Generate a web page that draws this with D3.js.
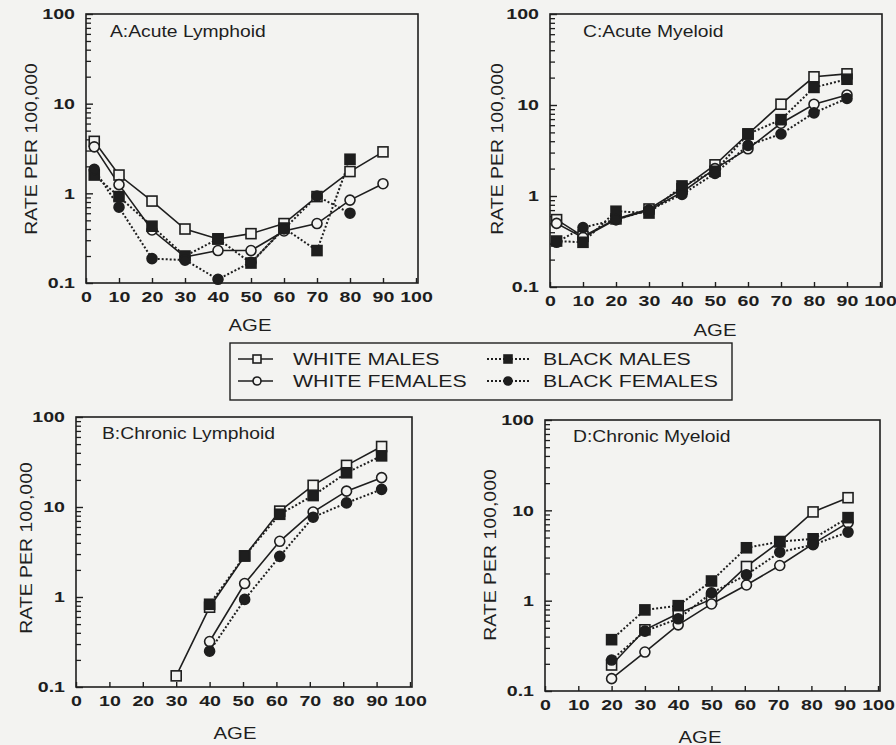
<!DOCTYPE html>
<html><head><meta charset="utf-8">
<script src="https://cdn.jsdelivr.net/npm/d3@7"></script>
<style>
html,body{margin:0;padding:0;background:#f3f3f1;}
svg{display:block;}
text{font-family:"Liberation Sans",Arial,Helvetica,sans-serif;fill:#1e1e1e;}
</style></head>
<body>
<svg id="chart" width="896" height="745"></svg>
<script>
// ---------- DATA ----------
const seriesNames = ["WHITE MALES", "WHITE FEMALES", "BLACK MALES", "BLACK FEMALES"];
const xTicks = [0,10,20,30,40,50,60,70,80,90,100];
const yTicks = [0.1, 1, 10, 100];
const yTickLabels = ["0.1", "1", "10", "100"];

// A: Acute Lymphoid
const agesA = [2.5,10,20,30,40,50,60,70,80,90];
const alWhiteMales   = [3.8,1.6,0.82,0.40,0.31,0.355,0.46,0.92,1.75,2.9];
const alWhiteFemales = [3.3,1.25,0.39,0.195,0.23,0.23,0.38,0.46,0.84,1.28];
const alBlackMales   = [1.6,0.92,0.43,0.20,0.31,0.167,0.41,0.23,2.4,null];
const alBlackFemales = [1.85,0.70,0.187,0.18,0.11,0.17,0.40,0.93,0.60,null];

// C: Acute Myeloid
const agesC = [2,10,20,30,40,50,60,70,80,90];
const amWhiteMales   = [0.55,0.36,0.56,0.72,1.2,2.2,4.8,10.2,20.4,22];
const amWhiteFemales = [0.50,0.35,0.55,0.70,1.1,2.0,3.3,6.3,10.2,12.9];
const amBlackMales   = [0.32,0.31,0.68,0.65,1.29,1.87,4.8,6.9,15.6,19.2];
const amBlackFemales = [0.31,0.45,0.55,0.70,1.04,1.77,3.6,4.8,8.2,11.8];

// B: Chronic Lymphoid
const agesB = [30,40,50.5,61,71,81,91.5];
const clWhiteMales   = [0.133,0.77,2.86,9.0,17.4,29,47];
const clWhiteFemales = [null,0.32,1.41,4.16,8.8,15,21.2];
const clBlackMales   = [null,0.83,2.86,8.3,13.4,24,37];
const clBlackFemales = [null,0.25,0.94,2.83,7.7,11.1,15.7];

// D: Chronic Myeloid
const agesD = [20,30,40,50,60.5,70.5,80.5,91];
const cmWhiteMales   = [0.194,0.476,0.72,1.04,2.39,4.5,9.6,13.8];
const cmWhiteFemales = [0.137,0.27,0.54,0.92,1.49,2.45,4.26,7.3];
const cmBlackMales   = [0.37,0.79,0.88,1.65,3.85,4.5,4.84,8.3];
const cmBlackFemales = [0.22,0.46,0.63,1.22,1.93,3.44,4.16,5.74];

// ---------- STYLE ----------
const INK = "#1e1e1e";
const styles = [
  {dash:null, shape:"square", fill:"#f3f3f1"},
  {dash:null, shape:"circle", fill:"#f3f3f1"},
  {dash:"2,2", shape:"square", fill:INK},
  {dash:"2,2", shape:"circle", fill:INK}
];

const svg = d3.select("#chart");
svg.append("rect").attr("width",896).attr("height",745).attr("fill","#f3f3f1");

function drawMarker(g, shape, cx, cy, fill, size) {
  if (shape === "square") {
    g.append("rect").attr("x", cx - size/2).attr("y", cy - size/2)
      .attr("width", size).attr("height", size)
      .attr("fill", fill).attr("stroke", INK).attr("stroke-width", 1.6);
  } else {
    g.append("circle").attr("cx", cx).attr("cy", cy).attr("r", size/2)
      .attr("fill", fill).attr("stroke", INK).attr("stroke-width", 1.6);
  }
}

function panel(cfg) {
  const x = d3.scaleLinear().domain([0,100]).range([cfg.x0, cfg.x1]);
  const y = d3.scaleLog().domain([0.1,100]).range([cfg.yBot, cfg.yTop]);
  const g = svg.append("g");

  // frame
  g.append("rect").attr("x", cfg.x0).attr("y", cfg.yTop)
    .attr("width", cfg.x1 - cfg.x0 + 2).attr("height", cfg.yBot - cfg.yTop)
    .attr("fill", "none").attr("stroke", INK).attr("stroke-width", 1.6);

  // x axis
  const gx = g.append("g").attr("transform", `translate(0,${cfg.yBot})`)
    .call(d3.axisBottom(x).tickValues(xTicks).tickSize(-5).tickSizeOuter(0));
  gx.select(".domain").remove();
  gx.selectAll(".tick line").attr("stroke", INK).attr("stroke-width", 1.4);
  gx.selectAll(".tick text")
    .attr("y", null).attr("dy", "0.35em")
    .attr("transform", "translate(0,14) scale(1.4,1)")
    .style("font-size", "14px").style("font-weight", "bold").attr("fill", INK);

  // y axis: majors labelled, minors unlabelled
  const minors = [];
  [0.1,1,10].forEach(d => { for (let k = 2; k <= 9; k++) minors.push(d*k); });
  const gyMinor = g.append("g").attr("transform", `translate(${cfg.x0},0)`)
    .call(d3.axisLeft(y).tickValues(minors).tickSize(-5).tickFormat(""));
  gyMinor.select(".domain").remove();
  gyMinor.selectAll(".tick line").attr("stroke", INK).attr("stroke-width", 1.3);

  const gy = g.append("g").attr("transform", `translate(${cfg.x0},0)`)
    .call(d3.axisLeft(y).tickValues(yTicks).tickSize(-7)
      .tickFormat((d,i) => yTickLabels[i]));
  gy.select(".domain").remove();
  gy.selectAll(".tick line").attr("stroke", INK).attr("stroke-width", 1.4);
  gy.selectAll(".tick text")
    .attr("x", null).attr("dy", "0.35em")
    .attr("transform", "translate(-11,0) scale(1.4,1)")
    .attr("text-anchor", "end")
    .style("font-size", "14px").style("font-weight", "bold").attr("fill", INK);

  // titles and axis labels
  g.append("text").attr("transform", `translate(${cfg.titleX},${cfg.titleY}) scale(1.17,1)`)
    .style("font-size", "16.5px").text(cfg.title);
  g.append("text").attr("transform", `translate(${cfg.ylabX},${cfg.ylabY}) rotate(-90) scale(1.18,1)`)
    .attr("text-anchor", "middle").attr("dy", "0.35em")
    .style("font-size", "16.5px").text("RATE PER 100,000");
  g.append("text").attr("transform", `translate(${cfg.ageX},${cfg.ageY}) scale(1.27,1)`)
    .attr("text-anchor", "middle").attr("dy", "0.35em")
    .style("font-size", "16px").text("AGE");

  // series
  const line = d3.line().defined(d => d.v != null).x(d => x(d.a)).y(d => y(d.v));
  cfg.series.forEach((vals, si) => {
    const st = styles[si];
    const pts = cfg.ages.map((a, i) => ({a, v: vals[i]}));
    g.append("path").datum(pts).attr("d", line).attr("fill", "none")
      .attr("stroke", INK).attr("stroke-width", st.dash ? 2 : 1.6)
      .attr("stroke-dasharray", st.dash);
  });
  cfg.series.forEach((vals, si) => {
    const st = styles[si];
    const mg = g.append("g");
    cfg.ages.forEach((a, i) => {
      if (vals[i] == null) return;
      drawMarker(mg, st.shape, x(a), y(vals[i]), st.fill, 10);
    });
  });
}

panel({x0:86, x1:416, yTop:14, yBot:283, ages:agesA,
  series:[alWhiteMales, alWhiteFemales, alBlackMales, alBlackFemales],
  title:"A:Acute Lymphoid", titleX:110, titleY:37, ylabX:31, ylabY:149, ageX:250, ageY:325});
panel({x0:550, x1:880, yTop:14, yBot:287, ages:agesC,
  series:[amWhiteMales, amWhiteFemales, amBlackMales, amBlackFemales],
  title:"C:Acute Myeloid", titleX:583, titleY:37, ylabX:497, ylabY:149, ageX:715, ageY:330});
panel({x0:76, x1:410, yTop:417, yBot:687, ages:agesB,
  series:[clWhiteMales, clWhiteFemales, clBlackMales, clBlackFemales],
  title:"B:Chronic Lymphoid", titleX:102, titleY:439, ylabX:26, ylabY:548, ageX:235, ageY:733});
panel({x0:545, x1:878, yTop:420, yBot:691, ages:agesD,
  series:[cmWhiteMales, cmWhiteFemales, cmBlackMales, cmBlackFemales],
  title:"D:Chronic Myeloid", titleX:573, titleY:442, ylabX:490, ylabY:555, ageX:700, ageY:737});

// ---------- LEGEND ----------
const lg = svg.append("g");
lg.append("rect").attr("x", 230).attr("y", 343).attr("width", 502).attr("height", 57)
  .attr("fill", "none").attr("stroke", INK).attr("stroke-width", 1.4);
const legendPos = [
  {lx1:238, lx2:273, mx:257, tx:293, cy:359},
  {lx1:238, lx2:273, mx:257, tx:293, cy:381},
  {lx1:487, lx2:530, mx:508, tx:543, cy:359},
  {lx1:487, lx2:530, mx:508, tx:543, cy:381}
];
seriesNames.forEach((name, i) => {
  const p = legendPos[i], st = styles[i];
  lg.append("line").attr("x1", p.lx1).attr("x2", p.lx2).attr("y1", p.cy).attr("y2", p.cy)
    .attr("stroke", INK).attr("stroke-width", st.dash ? 2 : 1.6).attr("stroke-dasharray", st.dash);
  drawMarker(lg, st.shape, p.mx, p.cy, st.fill, 8);
  lg.append("text").attr("transform", `translate(${p.tx},${p.cy}) scale(1.29,1)`)
    .attr("dy", "0.35em").style("font-size", "16.5px").text(name);
});
</script>
</body></html>
